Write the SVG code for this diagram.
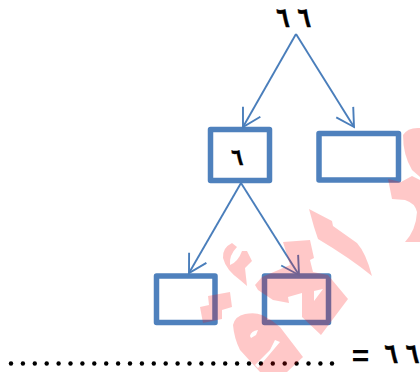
<svg xmlns="http://www.w3.org/2000/svg" width="420" height="372" viewBox="0 0 420 372">
<defs>
<marker id="arrow" markerUnits="userSpaceOnUse" markerWidth="24" markerHeight="24" refX="18" refY="12" orient="auto" overflow="visible"><path d="M0.500 2L18 12L0.500 22" fill="none" stroke="#4a7ebb" stroke-width="1.900"/></marker>
</defs>
<style>
.n{fill:#fff;stroke:#4f81bd;stroke-width:5.500;stroke-linejoin:round}
.c{fill:none;stroke:#4a7ebb;stroke-width:1.900;marker-end:url(#arrow)}
.t{font-family:"DejaVu Sans","Noto Sans",sans-serif;font-weight:bold;fill:#000;stroke:#000;stroke-width:.4;word-spacing:3px}
.w{fill:#ff0000;fill-opacity:.215;fill-rule:evenodd}
.d{fill:#000}
</style>
<g id="node-a"><rect class="n" x="210.500" y="129.500" width="59" height="51"/><text class="t" transform="translate(238.500 165) scale(1 1.350) skewX(12)" font-size="17" text-anchor="middle">٦</text></g>
<g id="node-b"><rect class="n" x="319" y="133.500" width="79.500" height="46.500"/></g>
<g id="node-c"><rect class="n" x="156.500" y="276" width="58.500" height="46.500"/></g>
<g id="node-d"><rect class="n" x="264.500" y="276" width="64" height="46.500"/></g>
<g id="connectors">
<path class="c" d="M296 34L243 127"/>
<path class="c" d="M296 34L354 127"/>
<path class="c" d="M241 183L189 273"/>
<path class="c" d="M241 183L299 275"/>
</g>
<g id="root"><text class="t" transform="translate(295 27) scale(1 1.450) skewX(12)" font-size="19" text-anchor="middle">٦ ٦</text></g>
<g id="equation"><text class="t" transform="translate(419.500 363) scale(1 1.450) skewX(12)" font-size="19" text-anchor="end">٦ ٦</text><text x="360.500" y="365.500" font-family="Liberation Sans,sans-serif" font-size="30" font-weight="bold" text-anchor="middle">=</text></g>
<g id="dots">
<circle class="d" cx="11" cy="363.500" r="2.200"/><circle class="d" cx="22.900" cy="363.500" r="2.200"/><circle class="d" cx="34.800" cy="363.500" r="2.200"/><circle class="d" cx="46.700" cy="363.500" r="2.200"/><circle class="d" cx="58.600" cy="363.500" r="2.200"/><circle class="d" cx="70.500" cy="363.500" r="2.200"/><circle class="d" cx="82.400" cy="363.500" r="2.200"/><circle class="d" cx="94.300" cy="363.500" r="2.200"/><circle class="d" cx="106.200" cy="363.500" r="2.200"/><circle class="d" cx="118.100" cy="363.500" r="2.200"/><circle class="d" cx="130" cy="363.500" r="2.200"/><circle class="d" cx="141.900" cy="363.500" r="2.200"/><circle class="d" cx="153.800" cy="363.500" r="2.200"/><circle class="d" cx="165.700" cy="363.500" r="2.200"/><circle class="d" cx="177.600" cy="363.500" r="2.200"/><circle class="d" cx="189.500" cy="363.500" r="2.200"/><circle class="d" cx="201.400" cy="363.500" r="2.200"/><circle class="d" cx="213.300" cy="363.500" r="2.200"/><circle class="d" cx="225.200" cy="363.500" r="2.200"/><circle class="d" cx="237.100" cy="363.500" r="2.200"/><circle class="d" cx="249" cy="363.500" r="2.200"/><circle class="d" cx="260.900" cy="363.500" r="2.200"/><circle class="d" cx="272.800" cy="363.500" r="2.200"/><circle class="d" cx="284.700" cy="363.500" r="2.200"/><circle class="d" cx="296.600" cy="363.500" r="2.200"/><circle class="d" cx="308.500" cy="363.500" r="2.200"/><circle class="d" cx="320.400" cy="363.500" r="2.200"/><circle class="d" cx="332" cy="363.500" r="2.200"/>
</g>
<g id="watermark">
<path class="w" d="M309 209L332 221L333 226L357 243Q366 253 372 276Q350 258 318 239L314 227Z"/>
<path class="w" d="M420 128Q408 127 403 135Q403 155 412 170L420 177Z"/>
<path class="w" d="M388 179L401 182L412 176L420 180V242H405Q416 230 417 212Q415 203 405 200L392 199Z"/>
<path class="w" d="M232 243L237 247Q229 255 230 265Q238 262 242 251L247 251L252 261L245 268L247 286L240 280Q226 270 223 258Q222 248 232 243Z"/>
<path class="w" d="M208 296L230 292L232 307L222 310L222 319L203 323L200 307L209 305Z"/>
<path class="w" d="M283 242L310 240L314 258L310 260L313 272L328 275L348 299L321 335L302 317L302 293L288 297L289 303L273 300L258 290L255 285L262 277L290 265ZM314 291L323 289L314 301Z"/>
<path class="w" d="M233 325Q235 316 245 314Q255 312 262 315Q272 320 280 327L303 357L287 372H260L240 350Q234 338 233 325ZM250 336Q251 331 258 330L256 335L251 338ZM275 340L280 342L258 368L255 365L270 350Z"/>
</g>
</svg>
